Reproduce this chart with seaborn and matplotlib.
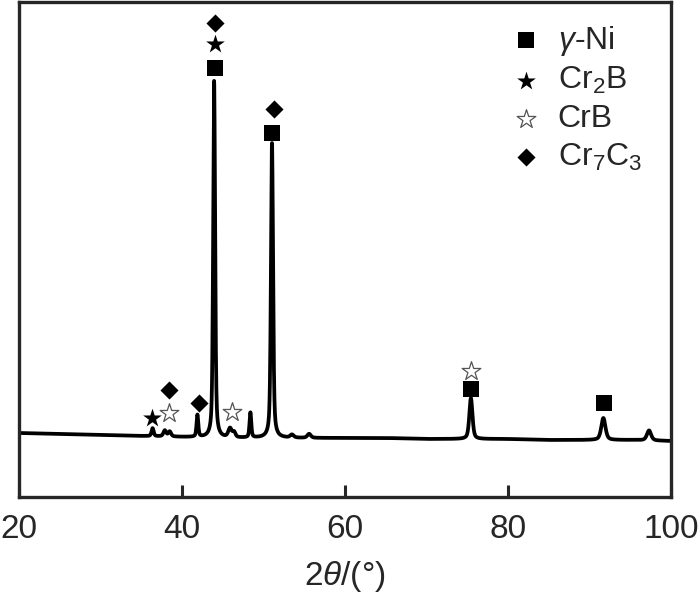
import numpy as np
import pandas as pd
import matplotlib
matplotlib.use("Agg")
import matplotlib.pyplot as plt
import seaborn as sns

# baseline (intensity in arbitrary units)
base_2theta = [20, 25, 30, 35, 40, 45, 50, 55, 60, 65, 70, 75, 80, 85, 90, 95, 100]
base_level = [64, 63, 62, 61, 60, 59, 59, 59, 59, 59, 58, 58, 58, 57, 57, 57, 56]

# peaks: position, height above baseline, FWHM
peak_pos = [36.4, 37.9, 38.5, 41.9, 43.95, 45.9, 46.4, 48.4, 51.05, 53.5, 55.6, 75.45, 91.7, 97.3]
peak_height = [8, 6, 5, 22, 357, 9, 5, 25, 295, 3, 4, 41, 22, 10]
peak_fwhm = [0.3, 0.4, 0.4, 0.25, 0.28, 0.5, 0.4, 0.25, 0.3, 0.5, 0.5, 0.45, 0.6, 0.6]

# phase markers (2theta, intensity)
ni_x = [44.0, 51.0, 75.5, 91.8]
ni_y = [429, 364, 108, 94]
cr2b_x = [44.0, 36.3]
cr2b_y = [453, 79]
crb_x = [38.4, 46.1, 75.5]
crb_y = [84, 85, 126]
cr7c3_x = [44.0, 51.3, 38.4, 42.1]
cr7c3_y = [474, 388, 107, 94]

two_theta = np.linspace(20, 100, 4000)
intensity = np.interp(two_theta, base_2theta, base_level)
for p, h, w in zip(peak_pos, peak_height, peak_fwhm):
    g = np.exp(-4 * np.log(2) * ((two_theta - p) / w) ** 2)
    l = 1 / (1 + 4 * ((two_theta - p) / w) ** 2)
    intensity = intensity + h * (0.5 * g + 0.5 * l)
df = pd.DataFrame({"2theta": two_theta, "I": intensity})

sns.set_style("ticks")
plt.rcParams['font.family'] = ['Liberation Sans', 'DejaVu Sans']
plt.rcParams['mathtext.fontset'] = 'custom'
plt.rcParams['mathtext.rm'] = 'Liberation Sans'
plt.rcParams['mathtext.it'] = 'Liberation Sans:italic'

fig = plt.figure(figsize=(7, 5.92), dpi=100)
ax = fig.add_axes([0.027, 0.1605, 0.9316, 0.836])

sns.lineplot(data=df, x="2theta", y="I", color='black', linewidth=2.7, ax=ax, legend=False)

sns.scatterplot(x=ni_x, y=ni_y, marker='s', s=125, color='black', edgecolor='black',
                linewidth=0, label=r'$\it{\gamma}$-Ni', ax=ax, zorder=5)
sns.scatterplot(x=cr2b_x, y=cr2b_y, marker='*', s=200, color='black', edgecolor='black',
                linewidth=0, label=r'Cr$_2$B', ax=ax, zorder=5)
sns.scatterplot(x=crb_x, y=crb_y, marker='*', s=200, facecolor='white', edgecolor='#555555',
                linewidth=0.9, label='CrB', ax=ax, zorder=5)
sns.scatterplot(x=cr7c3_x, y=cr7c3_y, marker='D', s=85, color='black', edgecolor='black',
                linewidth=0, label=r'Cr$_7$C$_3$', ax=ax, zorder=5)

ax.set_xlim(20, 100)
ax.set_ylim(0, 495)
ax.set_xticks([20, 40, 60, 80, 100])
ax.set_yticks([])
ax.tick_params(axis='x', direction='in', length=9, width=2.2, labelsize=24, pad=12)
for sp in ax.spines.values():
    sp.set_linewidth(2.4)
    sp.set_visible(True)
ax.set_xlabel(r'2$\it{\theta}$/(°)', fontsize=24, labelpad=10)
ax.set_ylabel('')

ax.legend(loc='upper right', bbox_to_anchor=(0.985, 0.995), frameon=False, fontsize=23,
          handletextpad=0.4, labelspacing=0.24, borderaxespad=0.2, handlelength=1.2)

plt.savefig("out.png", dpi=100)
